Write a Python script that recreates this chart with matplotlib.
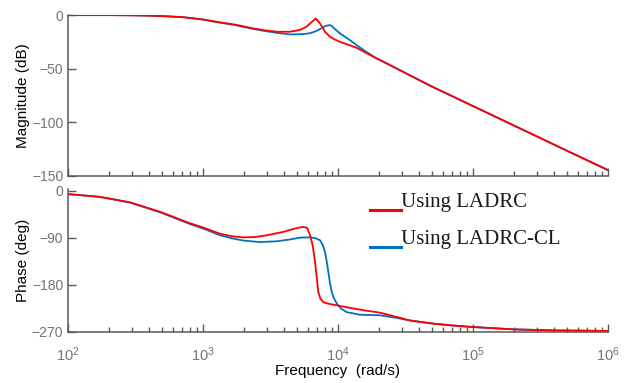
import numpy as np
import matplotlib
matplotlib.use("Agg")
import matplotlib.pyplot as plt
from matplotlib.legend_handler import HandlerLine2D
from matplotlib.ticker import LogLocator, NullFormatter, FixedLocator

# magnitude, LADRC (red)
w_mag_ladrc = [100, 200, 300, 404, 550, 715, 1000, 1262, 1750, 2228, 2800, 3516, 4406,
               5220, 5530, 5900, 6210, 6500, 6840, 7100, 7360, 7700, 8010, 8720, 9500,
               10340, 12000, 13750, 16000, 19350, 24290, 34140, 50000, 1e5, 2e5, 5e5, 1e6]
mag_ladrc = [0, 0, -0.2, -0.5, -1.1, -1.9, -4.0, -6.2, -9.0, -11.8, -14.0, -15.5, -15.5,
             -13.8, -12.4, -10.3, -7.8, -5.6, -3.1, -5.5, -7.8, -11.8, -15.5, -20.2, -22.8,
             -24.9, -27.8, -30.5, -35.0, -40.4, -46.6, -56.2, -66.8, -84.8, -102.8, -126.6, -144.5]

# magnitude, LADRC-CL (blue)
w_mag_cl = [100, 200, 300, 404, 550, 715, 1000, 1262, 1750, 2228, 2800, 3516, 4406,
            5530, 6210, 6800, 7360, 8010, 8400, 8720, 9000, 9400, 10000, 10340, 12000,
            13750, 16000, 19350, 24290, 34140, 50000, 1e5, 2e5, 5e5, 1e6]
mag_cl = [0, 0, -0.2, -0.5, -1.2, -2.0, -4.2, -6.5, -9.4, -12.3, -14.6, -16.5, -18.0,
          -17.7, -16.8, -15.2, -13.0, -10.3, -9.6, -9.3, -10.3, -12.5, -15.5, -17.0, -22.5,
          -28.0, -33.8, -40.4, -46.6, -56.2, -66.8, -84.8, -102.8, -126.6, -144.5]

# phase, LADRC (red)
w_ph_ladrc = [100, 172, 288, 480, 800, 1000, 1336, 1650, 1977, 2400, 2965, 3936, 4600,
              5220, 5530, 5900, 6210, 6500, 6760, 7000, 7140, 7400, 7790, 8500, 9780,
              12980, 16000, 20470, 27000, 34140, 50560, 70000, 1e5, 2e5, 4e5, 1e6]
ph_ladrc = [-6.3, -11.5, -22, -40, -62, -70, -82, -87, -89, -88.5, -85, -78.5, -73.5,
            -70, -69, -71, -85, -105, -136, -172, -193, -206, -213, -216, -219,
            -225, -229, -233, -241, -248, -254, -257.5, -260.5, -265, -267, -268]

# phase, LADRC-CL (blue)
w_ph_cl = [100, 172, 288, 480, 800, 1000, 1336, 1650, 1977, 2640, 3516, 4406, 5220,
           6210, 6800, 7360, 7700, 8010, 8250, 8480, 8700, 8980, 9300, 9780, 10500,
           11590, 14550, 20470, 27000, 34140, 50560, 70000, 1e5, 2e5, 4e5, 1e6]
ph_cl = [-6.3, -11.5, -22.5, -41, -63.5, -72, -85, -91, -95, -98, -96.5, -93, -89.5,
         -89, -90.5, -94.5, -103, -117, -135, -155, -175, -193, -205, -215, -225,
         -232, -237, -238, -243, -248, -254, -257.5, -260.5, -265, -267, -268]

labels = ["Using LADRC", "Using LADRC-CL"]
red = "#ff0000"
blue = "#0072bd"
axis_gray = "#5a5a5a"
text_gray = "#747474"


class UnderlineHandler(HandlerLine2D):
    # legend line drawn under the text baseline, like in the original figure
    def create_artists(self, legend, orig_handle, xdescent, ydescent,
                       width, height, fontsize, trans):
        arts = super().create_artists(legend, orig_handle, xdescent, ydescent,
                                      width, height, fontsize, trans)
        xd = arts[0].get_xdata()
        arts[0].set_ydata(np.full(len(xd), -0.17 * fontsize))
        return arts


def style_axes(ax):
    for side in ("top", "right"):
        ax.spines[side].set_visible(False)
    for side in ("left", "bottom"):
        ax.spines[side].set_color(axis_gray)
        ax.spines[side].set_linewidth(1.1)
    ax.set_xscale("log")
    ax.set_xlim(1e2, 1e6)
    ax.xaxis.set_major_locator(LogLocator(base=10, numticks=10))
    ax.xaxis.set_minor_locator(LogLocator(base=10, subs=np.arange(2, 10), numticks=20))
    ax.xaxis.set_minor_formatter(NullFormatter())
    ax.tick_params(which="major", direction="in", length=6, width=1,
                   color=axis_gray, labelcolor=text_gray, labelsize=10)
    ax.tick_params(which="minor", direction="in", length=3.5, width=1, color=axis_gray)
    ax.tick_params(axis="y", which="minor", left=False)
    ax.tick_params(axis="x", which="major", pad=10, labelsize=10.5)
    ax.yaxis.set_label_coords(-0.071, 0.5)


plt.rcParams["font.family"] = ["Liberation Sans", "DejaVu Sans"]
plt.rcParams["mathtext.fontset"] = "custom"
plt.rcParams["mathtext.rm"] = "Liberation Sans"
plt.rcParams["mathtext.it"] = "Liberation Sans"

fig = plt.figure(figsize=(6.3, 3.83), dpi=100)
ax1 = fig.add_axes([0.108, 0.5405, 0.857, 0.420])
ax2 = fig.add_axes([0.108, 0.1332, 0.857, 0.3726])

ax1.plot(w_mag_cl, mag_cl, color=blue, lw=1.3)
ax1.plot(w_mag_ladrc, mag_ladrc, color=red, lw=1.3)
style_axes(ax1)
ax1.set_ylim(-150, 0)
ax1.yaxis.set_major_locator(FixedLocator([-150, -100, -50, 0]))
ax1.tick_params(axis="x", which="both", labelbottom=False)
ax1.set_ylabel("Magnitude (dB)", fontsize=11)

l_cl, = ax2.plot(w_ph_cl, ph_cl, color=blue, lw=1.3)
l_ladrc, = ax2.plot(w_ph_ladrc, ph_ladrc, color=red, lw=1.3)
style_axes(ax2)
ax2.set_ylim(-270, 3)
ax2.yaxis.set_major_locator(FixedLocator([-270, -180, -90, 0]))
ax2.set_ylabel("Phase (deg)", fontsize=11)
ax2.set_xlabel("Frequency  (rad/s)", fontsize=11, labelpad=0)

leg = ax2.legend([l_ladrc, l_cl], labels, loc="upper left",
                 bbox_to_anchor=(370 / 630, 1 - 192 / 383), bbox_transform=fig.transFigure,
                 frameon=False, borderpad=0, borderaxespad=0, handlelength=1.5,
                 handletextpad=0, labelspacing=0.84,
                 prop={"family": "Liberation Serif", "size": 15},
                 handler_map={l_ladrc: UnderlineHandler(), l_cl: UnderlineHandler()})
for t in leg.get_texts():
    t.set_color("#1a1a1a")
for h in leg.legend_handles:
    h.set_linewidth(2.2)

fig.savefig("out.png", dpi=100)
